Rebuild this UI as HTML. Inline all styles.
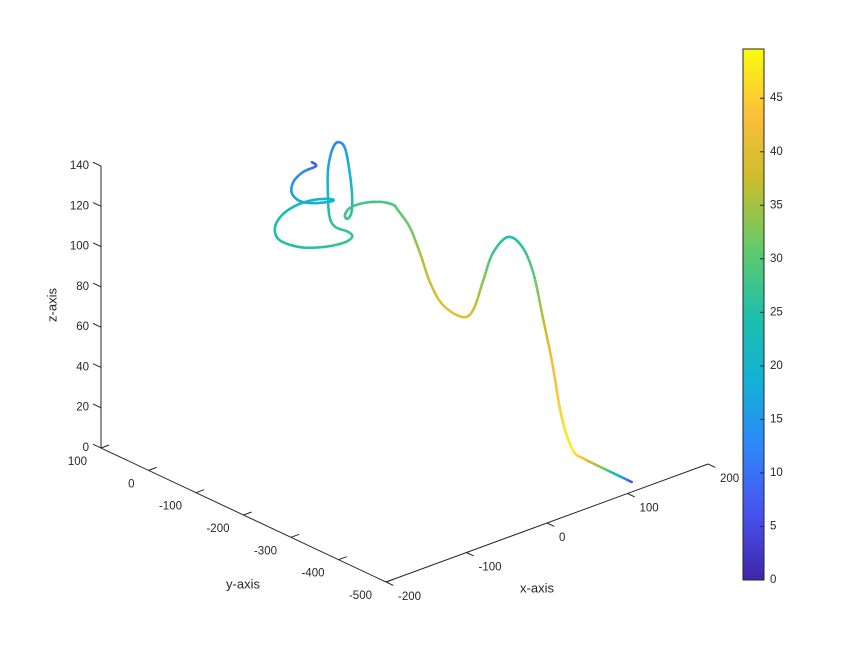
<!DOCTYPE html>
<html><head><meta charset="utf-8"><style>
html,body{margin:0;padding:0;background:#fff;}
svg{display:block;font-family:"Liberation Sans",Arial,sans-serif;}
</style></head><body>
<svg id="chart" width="866" height="654" viewBox="0 0 866 654" xmlns="http://www.w3.org/2000/svg">
<defs>
<linearGradient id="parula" x1="0" y1="1" x2="0" y2="0">
<stop offset="0" stop-color="rgb(62,38,168)"/><stop offset="0.125" stop-color="rgb(72,82,240)"/>
<stop offset="0.25" stop-color="rgb(46,135,247)"/><stop offset="0.375" stop-color="rgb(18,177,214)"/>
<stop offset="0.5" stop-color="rgb(30,192,170)"/><stop offset="0.625" stop-color="rgb(100,202,105)"/>
<stop offset="0.75" stop-color="rgb(200,190,45)"/><stop offset="0.875" stop-color="rgb(253,190,60)"/>
<stop offset="1" stop-color="rgb(249,251,14)"/>
</linearGradient>
</defs>
<g id="axes"></g>
<g id="curve"></g>
<g id="cbar"></g>
</svg>
<script>
// data
const xData = [3,8,-8,-20,-22,-12,4,23,30,22,4,-16,-34,-43,-37,-12,17,42,53,48,32,25,23,23,28,35,44,50,53,52,47,44,50,66,88,104,
  95,95,93,91,92,101,100,98,95,99,102,101,98,95,92,91,91,104,120];
const yData = [0,0,0,0,0,0,0,0,0,0,0,0,0,0,0,0,0,0,0,0,0,0,0,0,0,0,0,0,0,0,0,0,0,0,0,0,
  -25,-50,-75,-100,-125,-150,-175,-200,-225,-250,-275,-300,-325,-350,-375,-400,-425,-450,-475];
const zData = [123.3,120.6,120.0,116.9,111.6,106.2,102.8,100.6,100.5,102.3,104.3,104.7,102.5,97.3,90.4,83.3,79.1,77.5,78.8,82.1,86.9,92.8,103.1,116.5,125.6,128.5,124.3,111.0,98.7,90.9,88.7,91.0,93.6,93.7,91.1,87.3,
  88.8,83.1,73.3,61.5,53.2,48.7,55.1,73.1,89.6,99.8,97.2,87.2,68.5,49.0,25.2,11.8,10.1,5.5,0];
const cData = [8,8,12,14,16,18,19,20,20,21,21,22,23,24,25,25,26,27,27,27,27,26,21,18,14,12,14,19,23,26,28,28,28,28,28,29,
  30,31,35,38,40,41,39,33,28,24,26,30,36,42,46,49,43,30,5];
const xTicks = [-200,-100,0,100,200];
const yTicks = [100,0,-100,-200,-300,-400,-500];
const zTicks = [0,20,40,60,80,100,120,140];
const cTicks = [0,5,10,15,20,25,30,35,40,45];
const cMin = 0, cMax = 49.6;

const NS = "http://www.w3.org/2000/svg";
function proj(x,y,z){
  const a = x + 200, b = y + 500;
  return [386 + 0.805*a - 0.475*b, 582 - 0.295*a - 0.2233*b - 2.014*z];
}
const stops = [[0,[62,38,168]],[0.125,[72,82,240]],[0.25,[46,135,247]],[0.375,[18,177,214]],[0.5,[30,192,170]],[0.625,[100,202,105]],[0.75,[200,190,45]],[0.875,[253,190,60]],[1,[249,251,14]]];
function cmap(v){
  let t = Math.max(0,Math.min(1,(v-cMin)/(cMax-cMin)));
  for(let i=1;i<stops.length;i++){
    if(t<=stops[i][0]){
      const f=(t-stops[i-1][0])/(stops[i][0]-stops[i-1][0]);
      const c=stops[i-1][1].map((u,k)=>Math.round(u+(stops[i][1][k]-u)*f));
      return `rgb(${c[0]},${c[1]},${c[2]})`;
    }
  }
  return "rgb(249,251,14)";
}
function mk(tag, attrs, parent){
  const e=document.createElementNS(NS,tag);
  for(const k in attrs) e.setAttribute(k,attrs[k]);
  parent.appendChild(e); return e;
}
const axes=document.getElementById('axes');
const AX="#262626";
function line(p,q,parent,name){
  const l=mk('line',{x1:p[0],y1:p[1],x2:q[0],y2:q[1],stroke:AX,'stroke-width':1},parent);
  
  
  return l;
}
function text(x,y,s,anchor,parent,name,size){
  const t=mk('text',{x:x,y:y,'font-size':size||11.5,fill:AX,'text-anchor':anchor,'dominant-baseline':'central'},parent);
  t.textContent=s;
  
  
  return t;
}
line(proj(-200,100,0),proj(-200,100,140),axes,'z-axis-line');
line(proj(-200,100,0),proj(-200,-500,0),axes,'y-axis-line');
line(proj(-200,-500,0),proj(200,-500,0),axes,'x-axis-line');
zTicks.forEach(v=>{
  const p=proj(-200,100,v);
  line(p,[p[0]-8,p[1]-3.8],axes,'z-tick');
  text(p[0]-12,p[1],String(v),'end',axes,'z-tick-label');
});
yTicks.forEach(v=>{
  const p=proj(-200,v,0);
  line(p,[p[0]+8.2,p[1]-3],axes,'y-tick');
  text(p[0]-14,p[1]+14,String(v),'end',axes,'y-tick-label');
});
xTicks.forEach(v=>{
  const p=proj(v,-500,0);
  line(p,[p[0]+7.3,p[1]+3.4],axes,'x-tick');
  text(p[0]+12,p[1]+15,String(v),'start',axes,'x-tick-label');
});
text(537,588,'x-axis','middle',axes,'x-axis-title',13);
text(243,584,'y-axis','middle',axes,'y-axis-title',13);
const zt=text(52,305,'z-axis','middle',axes,'z-axis-title',13);
zt.setAttribute('transform','rotate(-90 52 305)');

const curve=document.getElementById('curve');
const n=xData.length, SUB=8;
function cr(p0,p1,p2,p3,t){const t2=t*t,t3=t2*t;return 0.5*((2*p1)+(-p0+p2)*t+(2*p0-5*p1+4*p2-p3)*t2+(-p0+3*p1-3*p2+p3)*t3);}
let prev=null, prevC=null;
for(let i=0;i<n-1;i++){
  const i0=Math.max(0,i-1), i3=Math.min(n-1,i+2);
  for(let s=0;s<=SUB;s++){
    if(i>0 && s===0) continue;
    const t=s/SUB;
    const x=cr(xData[i0],xData[i],xData[i+1],xData[i3],t);
    const y=cr(yData[i0],yData[i],yData[i+1],yData[i3],t);
    const z=cr(zData[i0],zData[i],zData[i+1],zData[i3],t);
    const c=cData[i]+(cData[i+1]-cData[i])*t;
    const p=proj(x,y,z);
    if(prev){
      const seg=mk('line',{x1:prev[0],y1:prev[1],x2:p[0],y2:p[1],stroke:cmap((c+prevC)/2),'stroke-width':2.5,'stroke-linecap':'round'},curve);
      
      
    }
    prev=p; prevC=c;
  }
}

const cb=document.getElementById('cbar');
const cbX=743, cbW=21, cbTop=49, cbBot=580;
function cy(v){return cbBot-(v-cMin)/(cMax-cMin)*(cbBot-cbTop);}
const r=mk('rect',{x:cbX,y:cbTop,width:cbW,height:cbBot-cbTop,fill:'url(#parula)',stroke:AX,'stroke-width':1},cb);


cTicks.forEach(v=>{
  const y=cy(v);
  line([cbX+cbW-4,y],[cbX+cbW,y],cb,'colorbar-tick');
  text(cbX+cbW+6,y,String(v),'start',cb,'colorbar-tick-label');
});
</script>
</body></html>
